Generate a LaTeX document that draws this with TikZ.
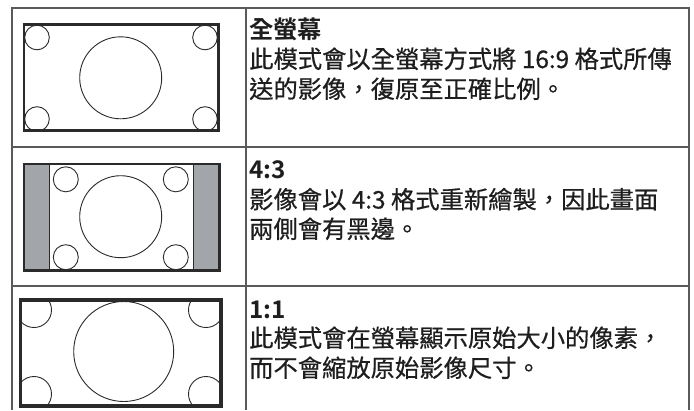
\documentclass[tikz,border=0pt]{standalone}
\usepackage{fontspec}
\setmainfont{Noto Sans CJK TC}[FakeBold=0.6]
\newfontfamily\boldcjk{Noto Sans CJK TC Bold}
\definecolor{tableline}{HTML}{5A5A5A}
\definecolor{barfill}{HTML}{A2A6AB}
\definecolor{inkline}{HTML}{2A2A2A}
\definecolor{inktext}{HTML}{1E1E1E}

\begin{document}
\begin{tikzpicture}[x=1pt,y=-1pt,
  grid/.style={draw=tableline,line width=1.3pt},
  screen/.style={draw=inkline,line width=2.5pt},
  disc/.style={draw=inkline,line width=0.9pt},
  title/.style={anchor=base west,inner sep=0pt,text=inktext,font=\fontsize{24.3}{30}\boldcjk},
  body/.style={anchor=base west,inner sep=0pt,text=inktext,font=\fontsize{24.3}{30}\selectfont}]

\useasboundingbox (0,0) rectangle (694,410);

% table
\draw[grid] (12,410) -- (12,8) -- (689,8) -- (689,410);
\draw[grid] (246,8) -- (246,410);
\draw[grid] (12,147) -- (689,147);
\draw[grid] (12,286) -- (689,286);

% full screen
\draw[screen] (23.8,24.5) rectangle (218.7,130.7);
\draw[disc] (120.7,77.8) circle [radius=41];
\draw[disc] (37,37.5) circle [radius=12.3];
\draw[disc] (205,37.5) circle [radius=12.3];
\draw[disc] (37,119) circle [radius=12.3];
\draw[disc] (205,119) circle [radius=12.3];

% 4:3
\fill[barfill] (23.8,163.8) rectangle (49.3,270.7);
\fill[barfill] (193.3,163.8) rectangle (219.5,270.7);
\draw[disc] (49.3,163.8) -- (49.3,270.7);
\draw[disc] (193.3,163.8) -- (193.3,270.7);
\draw[screen] (23.8,163.8) rectangle (219.5,270.7);
\draw[disc] (120.7,216.7) circle [radius=41];
\draw[disc] (65.8,179.3) circle [radius=12.5];
\draw[disc] (175.8,179.3) circle [radius=12.5];
\draw[disc] (65.8,257.2) circle [radius=12.5];
\draw[disc] (175.8,257.2) circle [radius=12.5];

% 1:1
\begin{scope}
\clip (20.5,300) rectangle (221,405.8);
\draw[disc] (123.7,351.5) circle [radius=50];
\draw[disc] (34,310) circle [radius=17.5];
\draw[disc] (206,310) circle [radius=17.5];
\draw[disc] (34,394) circle [radius=17.5];
\draw[disc] (206,394) circle [radius=17.5];
\end{scope}
\draw[screen,line width=3.8pt] (20.5,300) rectangle (221,405.8);

% texts
\node[title] (fullT) at (249,38) {全螢幕};
\node[body] (fullA) at (249,68) {此模式會以全螢幕方式將 16:9 格式所傳};
\node[body] (fullB) at (249,98) {送的影像，復原至正確比例。};

\node[title] (fourT) at (249,178) {4:3};
\node[body] (fourA) at (249,208.5) {影像會以 4:3 格式重新繪製，因此畫面};
\node[body] (fourB) at (249,238) {兩側會有黑邊。};

\node[title] (oneT) at (249,318) {1:1};
\node[body] (oneA) at (249,347) {此模式會在螢幕顯示原始大小的像素，};
\node[body] (oneB) at (249,377) {而不會縮放原始影像尺寸。};
\end{tikzpicture}
\end{document}
